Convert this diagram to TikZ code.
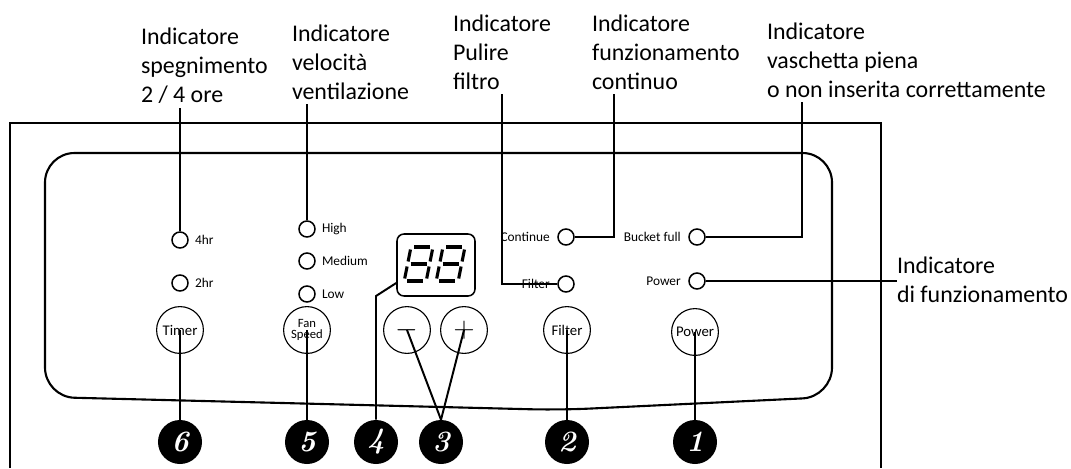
\documentclass[tikz,border=0pt]{standalone}
\usepackage{fontspec}
\setsansfont{Carlito}
\usetikzlibrary{positioning}

\tikzset{
  led/.style={draw, circle, line width=1.1pt, minimum size=0.4cm, inner sep=0pt},
  ledtext/.style={font=\sffamily\fontsize{9.5}{11}\selectfont, inner sep=0pt},
  button/.style={draw, circle, line width=0.8pt, minimum size=1.17cm, inner sep=0pt, align=center, font=\sffamily\fontsize{10.5}{10.5}\selectfont},
  badge/.style={circle, fill=black, minimum size=1.1cm, inner sep=0pt, text=white, font=\rmfamily\bfseries\itshape\fontsize{21}{21}\selectfont},
  callout/.style={font=\sffamily\fontsize{17}{20.6}\selectfont, align=left, inner sep=0pt, outer xsep=0pt, outer ysep=3pt},
  leader/.style={line width=1.4pt},
  segment/.style={line width=2.2pt},
}

\begin{document}
\begin{tikzpicture}[x=0.025cm, y=-0.025cm]
\useasboundingbox (0,0) rectangle (1071,468);

% housing and front panel
\draw[line width=1.6pt] (10,468) -- (10,123) -- (881,123) -- (881,468);
\draw[line width=1.5pt, rounded corners=21pt] (400,153) -- (832,153) -- (832,397) -- (560,410) -- (45,397) -- (45,153) -- cycle;

% lamps
\node[led] (led4hr) at (180,240) {};
\node[led] (led2hr) at (180,283) {};
\node[led] (ledHigh) at (307,229) {};
\node[led] (ledMed) at (307,261) {};
\node[led] (ledLow) at (307,294) {};
\node[led] (ledCont) at (566,237) {};
\node[led] (ledFilter) at (566,284) {};
\node[led] (ledBucket) at (697,237) {};
\node[led] (ledPower) at (697,281) {};

\node[ledtext, right=0.15cm of led4hr] (txt4hr) {4hr};
\node[ledtext, right=0.15cm of led2hr] (txt2hr) {2hr};
\node[ledtext, right=0.15cm of ledHigh] (txtHigh) {High};
\node[ledtext, right=0.15cm of ledMed] (txtMed) {Medium};
\node[ledtext, right=0.15cm of ledLow] (txtLow) {Low};
\node[ledtext, left=0.18cm of ledCont] (txtCont) {Continue};
\node[ledtext, left=0.18cm of ledFilter] (txtFilter) {Filter};
\node[ledtext, left=0.18cm of ledBucket] (txtBucket) {Bucket full};
\node[ledtext, left=0.18cm of ledPower] (txtPower) {Power};

% keys
\node[button] (btnTimer) at (180,330) {Timer};
\node[button, font=\sffamily\fontsize{9}{8}\selectfont] (btnFan) at (307,330) {Fan\\Speed};
\node[button, font=\huge] (btnMinus) at (407,330) {$-$};
\node[button, font=\huge] (btnPlus) at (464,330) {$+$};
\node[button] (btnFilter) at (567,330) {Filter};
\node[button] (btnPower) at (695,332) {Power};

% display 88
\node[draw, rounded corners=5pt, line width=1.1pt, minimum width=1.95cm, minimum height=1.55cm] (display) at (436,265) {};
\foreach \dx in {0,32} {
  \begin{scope}[shift={(411+\dx,247)}, xslant=0.2]
    \draw[segment] (3,0) -- (19,0);
    \draw[segment] (22,2.5) -- (22,14.5);
    \draw[segment] (22,19.5) -- (22,31.5);
    \draw[segment] (3,34) -- (19,34);
    \draw[segment] (0,19.5) -- (0,31.5);
    \draw[segment] (0,2.5) -- (0,14.5);
    \draw[segment] (3,17) -- (19,17);
  \end{scope}
}

% callouts
\node[callout, anchor=north west] (lblOff) at (141,24) {Indicatore\\spegnimento\\2 / 4 ore};
\node[callout, anchor=north west] (lblFan) at (292,21) {Indicatore\\velocità\\ventilazione};
\node[callout, anchor=north west] (lblClean) at (453,11) {Indicatore\\Pulire\\filtro};
\node[callout, anchor=north west] (lblCont) at (592,11) {Indicatore\\funzionamento\\continuo};
\node[callout, anchor=north west] (lblBucket) at (767,19) {Indicatore\\vaschetta piena\\o non inserita correttamente};
\node[callout, anchor=west] (lblRun) at (897,280) {Indicatore\\di funzionamento};

\draw[leader] (led4hr.north) -- (led4hr.north |- lblOff.south);
\draw[leader] (ledHigh.north) -- (ledHigh.north |- lblFan.south);
\draw[leader] (ledFilter.west) -| (lblClean.south);
\coordinate (kinkCont) at (614,237);
\draw[leader] (ledCont.east) -- (kinkCont) -- (kinkCont |- lblCont.south);
\coordinate (kinkBucket) at (802,237);
\draw[leader] (ledBucket.east) -- (kinkBucket) -- (kinkBucket |- lblBucket.south);
\draw[leader] (ledPower.east) -- (ledPower.east -| lblRun.west);

% numbered badges
\node[badge] (badge6) at (180,442) {6};
\node[badge] (badge5) at (307,442) {5};
\node[badge] (badge4) at (376,442) {4};
\node[badge] (badge3) at (441,442) {3};
\node[badge] (badge2) at (567,442) {2};
\node[badge] (badge1) at (695,442) {1};

\draw[leader] (btnTimer.center) -- (badge6);
\draw[leader] (btnFan.center) -- (badge5);
\coordinate (kinkDisp) at (376,296);
\draw[leader] ([yshift=-0.45cm]display.west) -- (kinkDisp) -- (badge4);
\draw[leader] (btnMinus.center) -- (badge3.north);
\draw[leader] (btnPlus.center) -- (badge3.north);
\draw[leader] (btnFilter.center) -- (badge2);
\draw[leader] (btnPower.center) -- (badge1);
\end{tikzpicture}
\end{document}
